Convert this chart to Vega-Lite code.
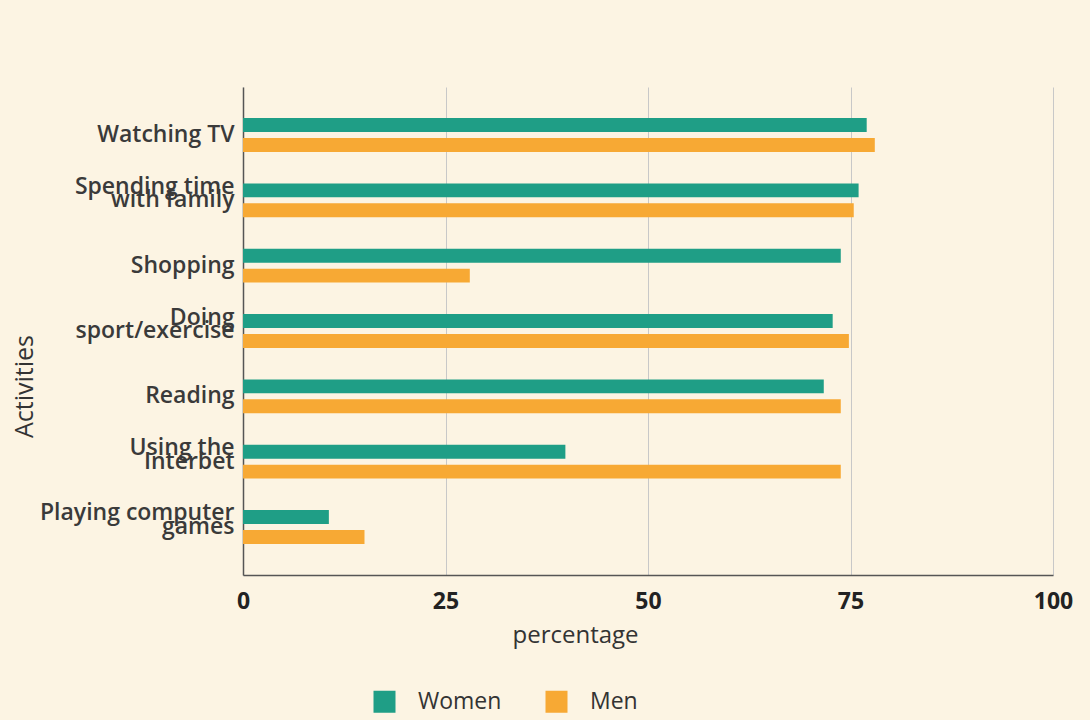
{
  "$schema": "https://vega.github.io/schema/vega-lite/v6.json",
  "autosize": {"type": "none"},
  "width": 810,
  "height": 488,
  "padding": {"left": 243, "top": 87, "right": 37, "bottom": 145},
  "background": "#fcf4e3",
  "data": {
    "values": [
      {"activity": "Watching TV", "gender": "Women", "pct": 77},
      {"activity": "Watching TV", "gender": "Men", "pct": 78},
      {"activity": "Spending time|with family", "gender": "Women", "pct": 76},
      {"activity": "Spending time|with family", "gender": "Men", "pct": 75.4},
      {"activity": "Shopping", "gender": "Women", "pct": 73.8},
      {"activity": "Shopping", "gender": "Men", "pct": 28},
      {"activity": "Doing|sport/exercise", "gender": "Women", "pct": 72.8},
      {"activity": "Doing|sport/exercise", "gender": "Men", "pct": 74.8},
      {"activity": "Reading", "gender": "Women", "pct": 71.7},
      {"activity": "Reading", "gender": "Men", "pct": 73.8},
      {"activity": "Using the|Interbet", "gender": "Women", "pct": 39.8},
      {"activity": "Using the|Interbet", "gender": "Men", "pct": 73.8},
      {"activity": "Playing computer|games", "gender": "Women", "pct": 10.6},
      {"activity": "Playing computer|games", "gender": "Men", "pct": 15}
    ]
  },
  "config": {
    "font": "Open Sans",
    "view": {"stroke": null}
  },
  "mark": {"type": "bar"},
  "encoding": {
    "y": {
      "field": "activity",
      "type": "nominal",
      "sort": null,
      "scale": {"paddingInner": 0.39, "paddingOuter": 0.43},
      "axis": {
        "title": "Activities",
        "titleFontSize": 25,
        "titleFontWeight": 500,
        "titleColor": "#333333",
        "titleX": -206,
        "titleY": 299,
        "titleAngle": -90,
        "titleBaseline": "bottom",
        "labelExpr": "indexof(datum.label, '|') >= 0 ? [split(datum.label, '|')[0], '\u00a0', split(datum.label, '|')[1]] : ['\u00a0', datum.label]",
        "labelFontSize": 23,
        "labelFontWeight": 600,
        "labelColor": "#3a3a3a",
        "labelLineHeight": 13.5,
        "labelOffset": -13.5,
        "labelLimit": 400,
        "labelPadding": 9,
        "ticks": false,
        "domainColor": "#555555",
        "domainWidth": 1.5
      }
    },
    "yOffset": {
      "field": "gender",
      "type": "nominal",
      "sort": ["Women", "Men"],
      "scale": {"paddingInner": 0.3, "paddingOuter": 0.15}
    },
    "x": {
      "field": "pct",
      "type": "quantitative",
      "scale": {"domain": [0, 100]},
      "axis": {
        "title": "percentage",
        "values": [0, 25, 50, 75, 100],
        "titleFontSize": 24,
        "titleFontWeight": 500,
        "titleColor": "#333333",
        "titleX": 332,
        "titleY": 48,
        "titleBaseline": "top",
        "labelFontSize": 23,
        "labelFontWeight": "bold",
        "labelColor": "#222222",
        "labelPadding": 15,
        "labelFlush": false,
        "ticks": false,
        "grid": true,
        "gridColor": "#c8c8c8",
        "gridWidth": 1,
        "domainColor": "#555555",
        "domainWidth": 1.5
      }
    },
    "color": {
      "field": "gender",
      "type": "nominal",
      "sort": ["Women", "Men"],
      "scale": {"domain": ["Women", "Men"], "range": ["#1f9e86", "#f7a934"]},
      "legend": {
        "title": null,
        "orient": "none",
        "direction": "horizontal",
        "legendX": 130,
        "legendY": 603,
        "symbolType": "square",
        "symbolSize": 484,
        "symbolStrokeWidth": 0,
        "labelFontSize": 23,
        "labelFontWeight": 500,
        "labelColor": "#333333",
        "labelOffset": 22,
        "columnPadding": 43
      }
    }
  }
}
